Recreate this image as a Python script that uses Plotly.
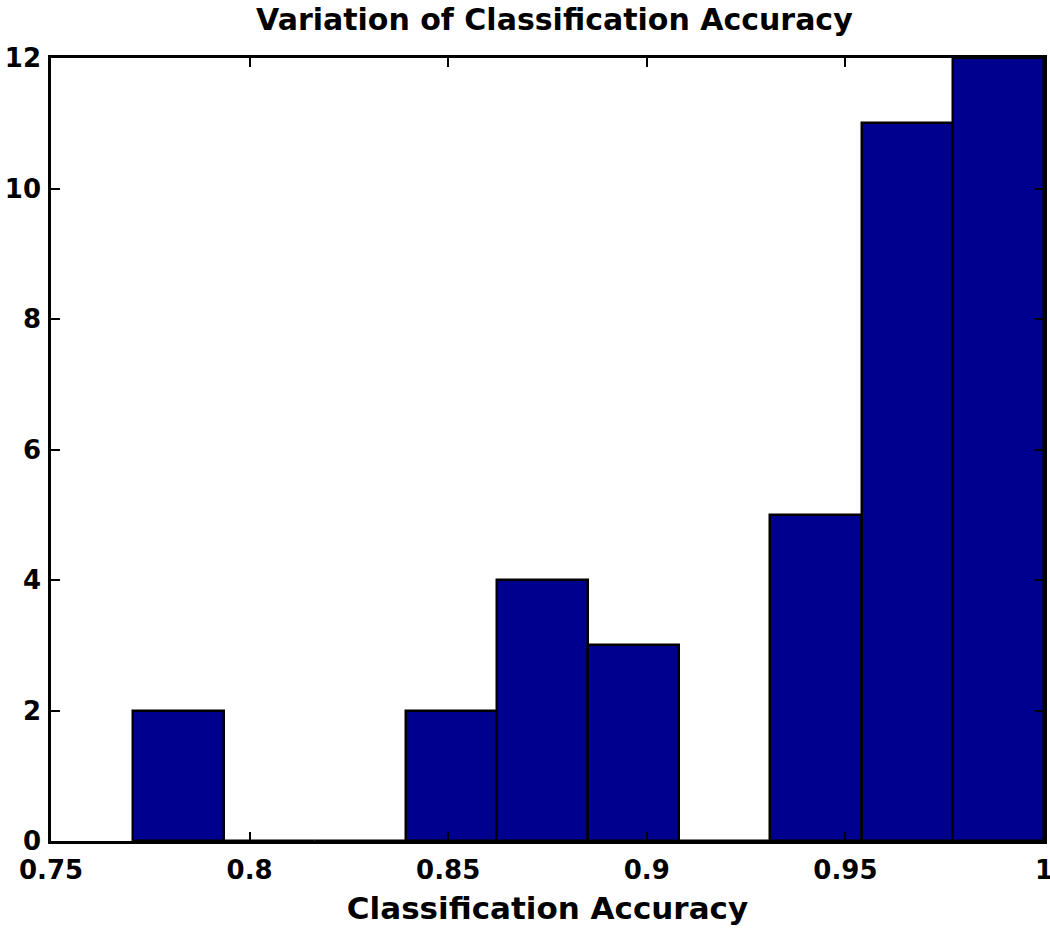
"""
Histogram of classification accuracy (MATLAB-style).
"""

import plotly.graph_objects as go

# bin centres and counts
bin_centers = [0.7820, 0.8049, 0.8279, 0.8508, 0.8738, 0.8967, 0.9197, 0.9426, 0.9656, 0.9885]
counts = [2, 0, 0, 2, 4, 3, 0, 5, 11, 12]
x_ticks = [0.75, 0.8, 0.85, 0.9, 0.95, 1.0]
x_tick_labels = ["0.75", "0.8", "0.85", "0.9", "0.95", "1"]
y_ticks = [0, 2, 4, 6, 8, 10, 12]

BIN_WIDTH = 0.02295
FONT = "DejaVu Sans, Liberation Sans, sans-serif"

fig = go.Figure()

fig.add_trace(go.Bar(
    x=bin_centers,
    y=counts,
    width=BIN_WIDTH,
    marker=dict(color="#00008F", line=dict(color="black", width=2.5)),
    showlegend=False,
))

fig.update_layout(
    width=1050,
    height=935,
    margin=dict(l=51, r=6, t=58, b=94),
    plot_bgcolor="white",
    paper_bgcolor="white",
    font=dict(family=FONT, size=26, color="black", weight="bold"),
    title=dict(
        text="Variation of Classification Accuracy",
        x=0.528, xanchor="center", y=0.979, yanchor="middle",
        font=dict(size=30, weight="bold"),
    ),
    bargap=0,
)

fig.update_xaxes(
    range=[0.75, 1.0],
    tickvals=x_ticks,
    ticktext=x_tick_labels,
    ticks="inside",
    ticklen=9,
    tickwidth=2,
    tickcolor="black",
    ticklabelstandoff=4,
    ticklabeloverflow="allow",
    showline=True,
    linecolor="black",
    linewidth=2.5,
    mirror="ticks",
    showgrid=False,
    zeroline=False,
    automargin=False,
    title=dict(text="Classification Accuracy", font=dict(size=31, weight="bold"), standoff=14),
)

fig.update_yaxes(
    range=[0, 12],
    tickvals=y_ticks,
    ticks="inside",
    ticklen=9,
    tickwidth=2,
    tickcolor="black",
    ticklabelstandoff=2,
    ticklabeloverflow="allow",
    showline=True,
    linecolor="black",
    linewidth=2.5,
    mirror="ticks",
    showgrid=False,
    zeroline=False,
    automargin=False,
)

# drop the default body margin so the figure fills the window exactly
fig.write_html(
    "out.html",
    config={"displayModeBar": False},
    post_script="document.body.style.margin='0';",
)
